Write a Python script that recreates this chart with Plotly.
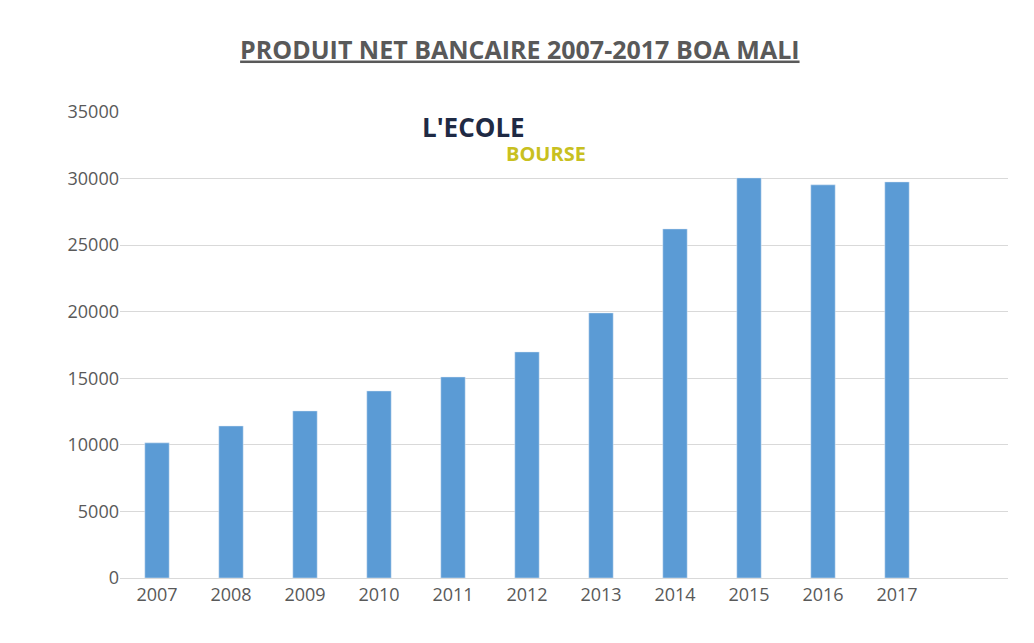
import plotly.graph_objects as go

years = ["2007", "2008", "2009", "2010", "2011", "2012", "2013", "2014", "2015", "2016", "2017"]
pnb = [10150, 11420, 12550, 14050, 15100, 16980, 19910, 26220, 30050, 29530, 29750]

fig = go.Figure(go.Bar(
    x=list(range(len(years))), y=pnb,
    marker_color="#5b9bd5", width=0.33,
))
fig.update_layout(
    width=1034, height=643,
    paper_bgcolor="white", plot_bgcolor="white",
    margin=dict(l=112, r=34, t=104, b=73),
    showlegend=False,
    font=dict(family="Open Sans", color="#595959", size=18),
    title=dict(text="<b><u>PRODUIT NET BANCAIRE 2007-2017 BOA MALI</u></b>",
               x=0.495, xanchor="center", y=0.935, yanchor="middle",
               font=dict(size=25, color="#595959")),
    xaxis=dict(range=[-0.5, 11.5], tickvals=list(range(len(years))), ticktext=years,
               showgrid=False, showline=True, linecolor="#d9d9d9", ticks=""),
    yaxis=dict(range=[0, 35000], dtick=5000, tickformat="d", gridcolor="#d9d9d9",
               zeroline=False, ticks="", ticklen=12, tickcolor="white"),
    annotations=[
        dict(text="<b>L'ECOLE</b>", x=0.398, y=1.01, xref="paper", yref="paper",
             showarrow=False, font=dict(size=26, color="#1f2a44", family="Open Sans")),
        dict(text="<b>BOURSE</b>", x=0.48, y=0.945, xref="paper", yref="paper",
             showarrow=False, font=dict(size=20, color="#c8c020", family="Open Sans")),
    ],
)
fig.write_html("out.html")
